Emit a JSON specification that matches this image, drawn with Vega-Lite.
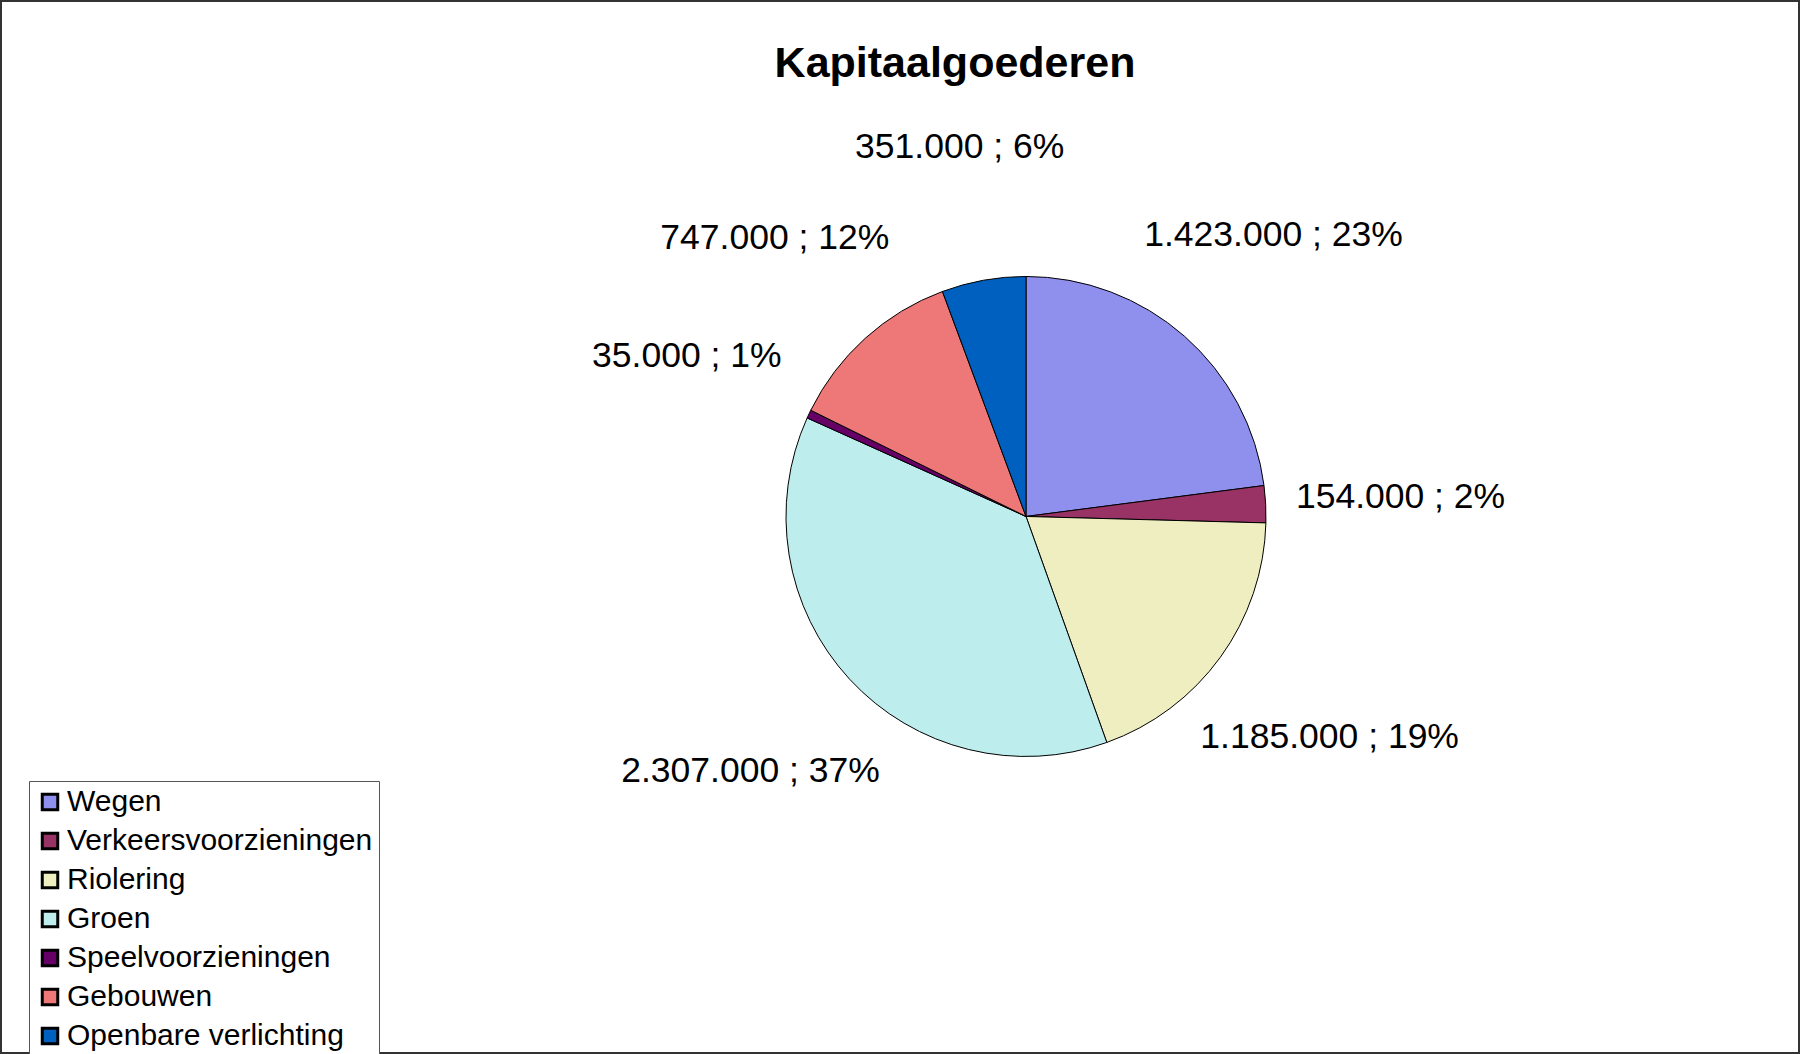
{
  "$schema": "https://vega.github.io/schema/vega-lite/v6.json",
  "width": 1800,
  "height": 1054,
  "autosize": "none",
  "padding": 0,
  "background": "white",
  "view": {"stroke": "#333333", "strokeWidth": 4},
  "config": {
    "font": "Liberation Sans",
    "locale": {"number": {"decimal": ",", "thousands": ".", "grouping": [3], "currency": ["€", ""]}}
  },
  "title": {
    "text": "Kapitaalgoederen",
    "fontSize": 43,
    "fontWeight": "bold",
    "font": "Liberation Sans",
    "color": "black",
    "anchor": "middle",
    "frame": "group",
    "baseline": "alphabetic",
    "offset": -120,
    "dx": 55
  },
  "data": {
    "values": [
      {"idx": 1, "categorie": "Wegen", "waarde": 1423000},
      {"idx": 2, "categorie": "\u00a0Verkeersvoorzieningen", "waarde": 154000},
      {"idx": 3, "categorie": "Riolering", "waarde": 1185000},
      {"idx": 4, "categorie": "Groen", "waarde": 2307000},
      {"idx": 5, "categorie": "Speelvoorzieningen", "waarde": 35000},
      {"idx": 6, "categorie": "Gebouwen", "waarde": 747000},
      {"idx": 7, "categorie": "Openbare verlichting", "waarde": 351000}
    ]
  },
  "transform": [
    {"joinaggregate": [{"op": "sum", "field": "waarde", "as": "totaal"}]},
    {"calculate": "format(datum.waarde, ',') + ' ; ' + format(datum.waarde / datum.totaal, '.0%')", "as": "label"}
  ],
  "encoding": {
    "theta": {"field": "waarde", "type": "quantitative", "stack": true},
    "order": {"field": "idx", "type": "quantitative"}
  },
  "layer": [
    {
      "mark": {
        "type": "arc",
        "outerRadius": 240,
        "stroke": "black",
        "strokeWidth": 1,
        "x": {"expr": "width * 0.57"},
        "y": {"expr": "height * 0.49"}
      },
      "encoding": {
        "color": {
          "field": "categorie",
          "type": "nominal",
          "sort": null,
          "scale": {
            "range": ["#8F8FEE", "#993366", "#EEEEC0", "#BDEDED", "#660066", "#EE7777", "#0060C0"]
          },
          "legend": {
            "orient": "none",
            "legendX": 29,
            "legendY": 781,
            "title": null,
            "padding": 6,
            "fillColor": "white",
            "strokeColor": "#555555",
            "symbolType": "square",
            "symbolSize": 240,
            "symbolStrokeColor": "black",
            "symbolStrokeWidth": 3,
            "symbolOpacity": 1,
            "labelFontSize": 30,
            "labelFont": "Liberation Sans",
            "labelColor": "black",
            "labelOffset": 2,
            "rowPadding": 9,
            "labelLimit": 400
          }
        }
      }
    },
    {
      "mark": {
        "type": "text",
        "radius": 375,
        "fontSize": 35.5,
        "font": "Liberation Sans",
        "color": "black",
        "x": {"expr": "width * 0.57"},
        "y": {"expr": "height * 0.49"}
      },
      "encoding": {
        "text": {"field": "label", "type": "nominal"}
      }
    }
  ]
}
